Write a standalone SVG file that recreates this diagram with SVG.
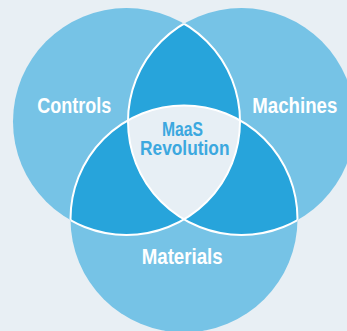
<svg xmlns="http://www.w3.org/2000/svg" width="347" height="331" viewBox="0 0 347 331">
  <style>
    .lbl { font-family: "Liberation Sans", Arial, sans-serif; font-weight: bold; font-size: 22px; fill: #ffffff; }
    .ctr { font-family: "Liberation Sans", Arial, sans-serif; font-weight: bold; font-size: 20.5px; fill: #3ca8df; }
    .base { fill: #76c3e6; }
    .lens { fill: #27a4db; }
    .core { fill: #e7eff5; }
    .edge { fill: none; stroke: #ffffff; stroke-width: 2; }
  </style>
  <defs>
    <circle id="cL" cx="126.5" cy="121.5" r="113.5"/>
    <circle id="cR" cx="241.5" cy="121.5" r="113.5"/>
    <circle id="cB" cx="184" cy="219" r="113.5"/>
    <clipPath id="clipL"><use href="#cL"/></clipPath>
    <clipPath id="clipR"><use href="#cR"/></clipPath>
    <clipPath id="clipB"><use href="#cB"/></clipPath>
    <clipPath id="clipLR" clip-path="url(#clipR)"><use href="#cL"/></clipPath>
    <clipPath id="clipNotL"><use href="#cR"/><use href="#cB"/></clipPath>
    <clipPath id="clipNotR"><use href="#cL"/><use href="#cB"/></clipPath>
    <clipPath id="clipNotB"><use href="#cL"/><use href="#cR"/></clipPath>
  </defs>
  <rect width="347" height="331" fill="#e8eff4"/>
  <g id="controls">
    <use href="#cL" class="base"/>
  </g>
  <g id="machines">
    <use href="#cR" class="base"/>
  </g>
  <g id="materials">
    <use href="#cB" class="base"/>
  </g>
  <g id="overlaps">
    <use href="#cR" class="lens" clip-path="url(#clipL)"/>
    <use href="#cB" class="lens" clip-path="url(#clipL)"/>
    <use href="#cB" class="lens" clip-path="url(#clipR)"/>
  </g>
  <g id="maas-revolution">
    <use href="#cB" class="core" clip-path="url(#clipLR)"/>
  </g>
  <g id="outlines">
    <use href="#cL" class="edge" clip-path="url(#clipNotL)"/>
    <use href="#cR" class="edge" clip-path="url(#clipNotR)"/>
    <use href="#cB" class="edge" clip-path="url(#clipNotB)"/>
  </g>
  <g id="labels">
    <text class="lbl" x="37.3" y="113" textLength="74" lengthAdjust="spacingAndGlyphs">Controls</text>
    <text class="lbl" x="252.3" y="113" textLength="85" lengthAdjust="spacingAndGlyphs">Machines</text>
    <text class="lbl" x="141.7" y="263.5" textLength="81" lengthAdjust="spacingAndGlyphs">Materials</text>
    <text class="ctr" x="162" y="135.5" textLength="41" lengthAdjust="spacingAndGlyphs">MaaS</text>
    <text class="ctr" x="140" y="154.5" textLength="89.5" lengthAdjust="spacingAndGlyphs">Revolution</text>
  </g>
</svg>
